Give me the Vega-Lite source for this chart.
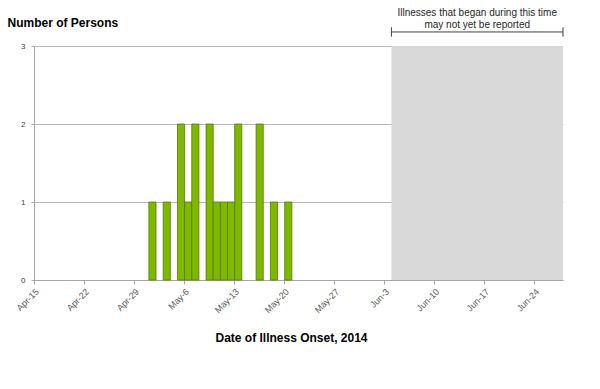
{
  "$schema": "https://vega.github.io/schema/vega-lite/v6.json",
  "width": 529,
  "height": 234,
  "autosize": {"type": "none"},
  "padding": {"left": 34, "top": 46, "right": 37, "bottom": 109},
  "background": "white",
  "config": {
    "font": "Liberation Sans",
    "view": {"stroke": null},
    "axis": {"labelFont": "Liberation Sans", "titleFont": "Liberation Sans"}
  },
  "datasets": {
    "cases": [
      {"date": "2014-05-01", "count": 1},
      {"date": "2014-05-03", "count": 1},
      {"date": "2014-05-05", "count": 2},
      {"date": "2014-05-06", "count": 1},
      {"date": "2014-05-07", "count": 2},
      {"date": "2014-05-09", "count": 2},
      {"date": "2014-05-10", "count": 1},
      {"date": "2014-05-11", "count": 1},
      {"date": "2014-05-12", "count": 1},
      {"date": "2014-05-13", "count": 2},
      {"date": "2014-05-16", "count": 2},
      {"date": "2014-05-18", "count": 1},
      {"date": "2014-05-20", "count": 1}
    ],
    "band": [{"start": "2014-06-04", "end": "2014-06-28"}],
    "notes": [
      {"date": "2014-06-16", "y": 3.42, "text": "Illnesses that began during this time"},
      {"date": "2014-06-16", "y": 3.27, "text": "may not yet be reported"}
    ],
    "caps": [
      {"date": "2014-06-04", "y1": 3.12, "y2": 3.24},
      {"date": "2014-06-28", "y1": 3.12, "y2": 3.24}
    ],
    "bracket": [{"start": "2014-06-04", "end": "2014-06-28", "y": 3.18}]
  },
  "layer": [
    {
      "data": {"name": "band"},
      "mark": {"type": "rect", "color": "#d9d9d9"},
      "encoding": {
        "x": {"field": "start", "type": "temporal", "title": "Date of Illness Onset, 2014"},
        "x2": {"field": "end"}
      }
    },
    {
      "data": {"name": "cases"},
      "mark": {"type": "bar", "color": "#7fb800", "stroke": "#557a00", "strokeWidth": 0.8, "binSpacing": 0},
      "encoding": {
        "x": {
          "field": "date",
          "type": "temporal",
          "timeUnit": "utcyearmonthdate",
          "title": "Date of Illness Onset, 2014",
          "scale": {
            "type": "utc",
            "domain": [
              {"year": 2014, "month": 4, "date": 15, "utc": true},
              {"year": 2014, "month": 6, "date": 28, "utc": true}
            ]
          },
          "axis": {
            "values": [
              {"year": 2014, "month": 4, "date": 15, "utc": true},
              {"year": 2014, "month": 4, "date": 22, "utc": true},
              {"year": 2014, "month": 4, "date": 29, "utc": true},
              {"year": 2014, "month": 5, "date": 6, "utc": true},
              {"year": 2014, "month": 5, "date": 13, "utc": true},
              {"year": 2014, "month": 5, "date": 20, "utc": true},
              {"year": 2014, "month": 5, "date": 27, "utc": true},
              {"year": 2014, "month": 6, "date": 3, "utc": true},
              {"year": 2014, "month": 6, "date": 10, "utc": true},
              {"year": 2014, "month": 6, "date": 17, "utc": true},
              {"year": 2014, "month": 6, "date": 24, "utc": true}
            ],
            "format": "%b-%-d",
            "labelAngle": -45,
            "labelFontSize": 9,
            "labelColor": "#595959",
            "labelPadding": 3,
            "grid": false,
            "domainColor": "#a6a6a6",
            "tickColor": "#a6a6a6",
            "tickSize": 4,
            "titleFontSize": 12,
            "titleFontWeight": "bold",
            "titleColor": "#000000",
            "titleX": 257,
            "titleY": 57,
            "titleBaseline": "middle",
            "titleAnchor": "middle"
          }
        },
        "y": {
          "field": "count",
          "type": "quantitative",
          "title": "Number of Persons",
          "scale": {"domain": [0, 3], "nice": false},
          "axis": {
            "values": [0, 1, 2, 3],
            "format": "d",
            "labelFontSize": 8,
            "labelColor": "#404040",
            "labelPadding": 6,
            "ticks": true,
            "tickSize": 3,
            "tickColor": "#a6a6a6",
            "domainColor": "#a6a6a6",
            "gridColor": "#b8b8b8",
            "gridWidth": 1,
            "titleAngle": 0,
            "titleAlign": "left",
            "titleBaseline": "alphabetic",
            "titleX": -27,
            "titleY": -20,
            "titleFontSize": 12,
            "titleFontWeight": "bold",
            "titleColor": "#000000"
          }
        }
      }
    },
    {
      "data": {"name": "bracket"},
      "mark": {"type": "rule", "color": "#404040", "strokeWidth": 1},
      "encoding": {
        "x": {"field": "start", "type": "temporal", "title": "Date of Illness Onset, 2014"},
        "x2": {"field": "end"},
        "y": {"field": "y", "type": "quantitative", "title": "Number of Persons"}
      }
    },
    {
      "data": {"name": "caps"},
      "mark": {"type": "rule", "color": "#404040", "strokeWidth": 1},
      "encoding": {
        "x": {"field": "date", "type": "temporal", "title": "Date of Illness Onset, 2014"},
        "y": {"field": "y1", "type": "quantitative", "title": "Number of Persons"},
        "y2": {"field": "y2"}
      }
    },
    {
      "data": {"name": "notes"},
      "mark": {"type": "text", "fontSize": 10, "color": "#262626", "align": "center", "baseline": "middle"},
      "encoding": {
        "x": {"field": "date", "type": "temporal", "title": "Date of Illness Onset, 2014"},
        "y": {"field": "y", "type": "quantitative", "title": "Number of Persons"},
        "text": {"field": "text"}
      }
    }
  ]
}
